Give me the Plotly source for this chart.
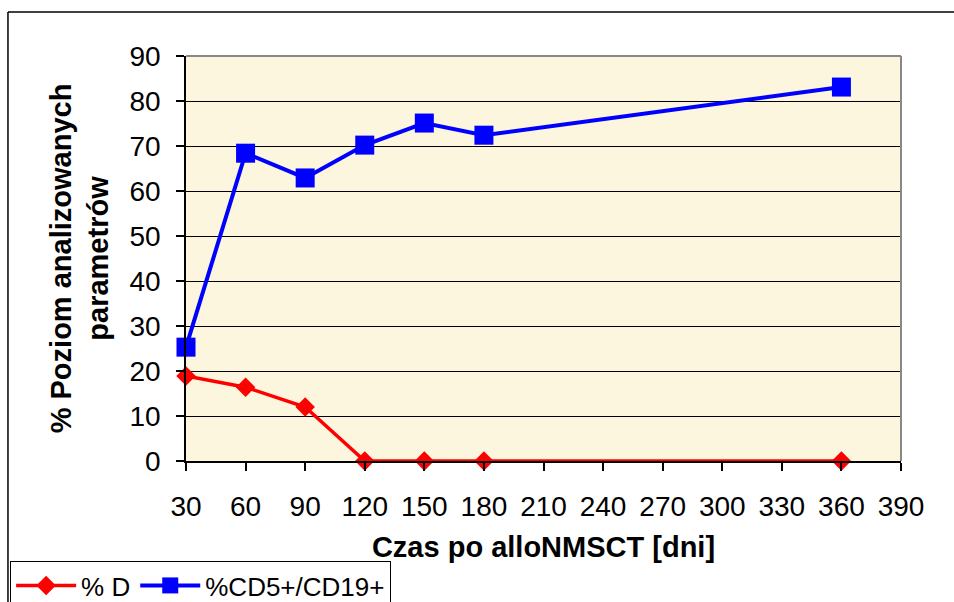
import plotly.graph_objects as go

days = [30, 60, 90, 120, 150, 180, 360]
pct_d = [18.9, 16.4, 12.0, 0, 0, 0, 0]
pct_cd5 = [25.3, 68.4, 62.9, 70.2, 75.1, 72.4, 83.1]
x_ticks = [30, 60, 90, 120, 150, 180, 210, 240, 270, 300, 330, 360, 390]
y_ticks = [0, 10, 20, 30, 40, 50, 60, 70, 80, 90]

FONT = "Liberation Sans, Arial, sans-serif"

fig = go.Figure()
fig.add_trace(go.Scatter(
    x=days, y=pct_d, name="% D", mode="lines+markers",
    line=dict(color="#FF0000", width=3.5),
    marker=dict(symbol="diamond", size=15, color="#FF0000"),
    cliponaxis=False,
))
fig.add_trace(go.Scatter(
    x=days, y=pct_cd5, name="%CD5+/CD19+", mode="lines+markers",
    line=dict(color="#0000FF", width=4),
    marker=dict(symbol="square", size=19, color="#0000FF"),
    cliponaxis=False,
))

fig.update_layout(
    width=954, height=602,
    margin=dict(l=186, r=53, t=56, b=141, autoexpand=False),
    paper_bgcolor="white",
    plot_bgcolor="#FDF6DF",
    font=dict(family=FONT, size=28, color="black"),
    showlegend=True,
    legend=dict(
        orientation="h", x=-0.246, xanchor="left", y=-0.247, yanchor="top",
        bordercolor="black", borderwidth=1, bgcolor="white",
        font=dict(size=26, family=FONT), itemwidth=60,
        tracegroupgap=0,
    ),
    xaxis=dict(
        range=[30, 390], tickvals=x_ticks, ticktext=[str(v) for v in x_ticks],
        showgrid=False, zeroline=False, showline=True, linecolor="black", linewidth=1.5,
        ticks="outside", ticklen=8, tickcolor="black", tickwidth=1.5,
        tickfont=dict(size=28), ticklabelstandoff=12,
        title=dict(text="<b>Czas po alloNMSCT [dni]</b>", font=dict(size=29), standoff=15),
    ),
    yaxis=dict(
        range=[0, 90], tickvals=y_ticks,
        showgrid=True, gridcolor="black", gridwidth=1,
        zeroline=False, showline=True, linecolor="black", linewidth=1.5,
        ticks="outside", ticklen=8, tickcolor="black", tickwidth=1.5,
        tickfont=dict(size=28), ticklabelstandoff=10,
        title=dict(text="<b>% Poziom analizowanych<br>parametrów</b>", font=dict(size=29), standoff=12),
    ),
    shapes=[
        dict(type="line", xref="paper", yref="paper", x0=0, x1=1, y0=1, y1=1,
             line=dict(color="#888888", width=2)),
        dict(type="line", xref="paper", yref="paper", x0=1, x1=1, y0=0, y1=1,
             line=dict(color="#888888", width=2)),
        dict(type="line", xref="paper", yref="paper", x0=-0.249, x1=1.09, y0=1.1086, y1=1.1086,
             line=dict(color="black", width=1.5)),
        dict(type="line", xref="paper", yref="paper", x0=-0.249, x1=-0.249, y0=1.1086, y1=-0.4,
             line=dict(color="black", width=1.5)),
    ],
)

fig.write_html("out.html")
